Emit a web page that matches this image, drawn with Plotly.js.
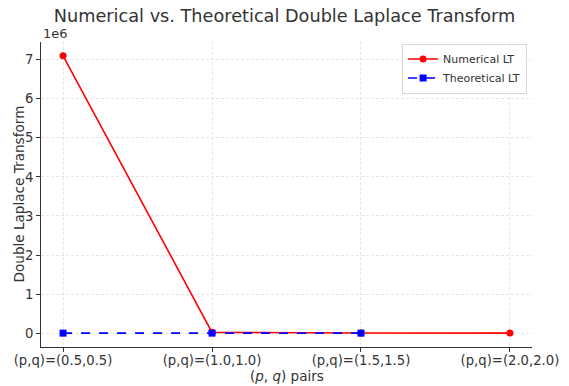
<!DOCTYPE html>
<html>
<head>
<meta charset="utf-8">
<script src="https://cdn.plot.ly/plotly-3.0.1.min.js"></script>
<style>html,body{margin:0;padding:0;background:#fff;}#chart{width:569px;height:386px;}</style>
</head>
<body>
<div id="chart"></div>
<script>
const categories = ["(p,q)=(0.5,0.5)", "(p,q)=(1.0,1.0)", "(p,q)=(1.5,1.5)", "(p,q)=(2.0,2.0)"];
const numericalLT = [7100000, 20000, 3000, 500];
const theoreticalLT = [4, 1, 0.44, null];
const yTickVals = [0, 1e6, 2e6, 3e6, 4e6, 5e6, 6e6, 7e6];
const yTickText = ["0", "1", "2", "3", "4", "5", "6", "7"];

const xIdx = categories.map((_, i) => i);
const font = "DejaVu Sans, sans-serif";

const traces = [
  {
    x: xIdx, y: numericalLT, name: "Numerical LT", type: "scatter", mode: "lines+markers",
    line: {color: "red", width: 1.6},
    marker: {color: "red", symbol: "circle", size: 7}
  },
  {
    x: xIdx, y: theoreticalLT, name: "Theoretical LT", type: "scatter", mode: "lines+markers",
    line: {color: "blue", width: 1.6, dash: "dash"},
    marker: {color: "blue", symbol: "square", size: 7},
    connectgaps: false
  }
];

const layout = {
  width: 569, height: 386,
  margin: {l: 41, r: 37, t: 42, b: 39},
  paper_bgcolor: "#fff", plot_bgcolor: "#fff",
  font: {family: font, color: "#333", size: 13},
  title: {text: "Numerical vs. Theoretical Double Laplace Transform", font: {family: font, size: 17.7, color: "#333"}, x: 0.5, xanchor: "center", y: 0.958, yanchor: "middle"},
  xaxis: {
    range: [-0.148, 3.148],
    tickvals: xIdx, ticktext: categories,
    showline: true, linecolor: "#333", linewidth: 1,
    ticks: "outside", ticklen: 4, tickcolor: "#333",
    ticklabelstandoff: -3,
    showgrid: true, gridcolor: "#e0e0e0", griddash: "3px,2px", gridwidth: 0.8,
    zeroline: false,
    tickfont: {size: 13.2, color: "#333"}
  },
  yaxis: {
    range: [-355000, 7455000],
    tickvals: yTickVals, ticktext: yTickText,
    showline: true, linecolor: "#333", linewidth: 1,
    ticks: "outside", ticklen: 4, tickcolor: "#333",
    showgrid: true, gridcolor: "#e0e0e0", griddash: "3px,2px", gridwidth: 0.8,
    zeroline: false,
    tickfont: {size: 13.2, color: "#333"}
  },
  legend: {
    x: 0.99, xanchor: "right", y: 0.995, yanchor: "top",
    bgcolor: "rgba(255,255,255,0.8)", bordercolor: "#d8d8d8", borderwidth: 1,
    font: {size: 11, color: "#333"}, tracegroupgap: 0
  },
  annotations: [
    {text: "1e6", xref: "paper", yref: "paper", x: 0, y: 1, xanchor: "left", yanchor: "bottom", showarrow: false, font: {size: 13, color: "#333"}, yshift: -1},
    {text: "Double Laplace Transform", xref: "paper", yref: "paper", x: -0.0468, y: 0.5, xanchor: "center", yanchor: "middle", textangle: -90, showarrow: false, font: {size: 13.6, color: "#333"}},
    {text: "(<i>p</i>, <i>q</i>) pairs", xref: "paper", yref: "paper", x: 0.5, y: -0.095, xanchor: "center", yanchor: "middle", showarrow: false, font: {size: 13.5, color: "#333"}}
  ],
  showlegend: true
};

Plotly.newPlot("chart", traces, layout, {displayModeBar: false, staticPlot: true});
</script>
</body>
</html>
